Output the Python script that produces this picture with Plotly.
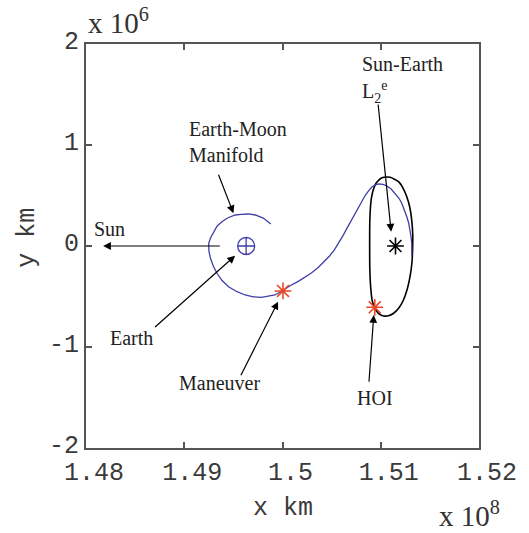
import plotly.graph_objects as go

# Units: x in 1e8 km, y in 1e6 km
manifold_x = [1.49881, 1.49804, 1.49723, 1.49652, 1.49582, 1.49518, 1.49441, 1.49383, 1.49335, 1.49300,
              1.49270, 1.49249, 1.49251, 1.49267, 1.49295, 1.49333, 1.49385, 1.49451, 1.49532, 1.49619,
              1.49703, 1.49786, 1.49854, 1.49922, 1.50005, 1.50076, 1.50156, 1.50222, 1.50290, 1.50358,
              1.50425, 1.50479, 1.50526, 1.50569, 1.50610, 1.50650, 1.50693, 1.50736, 1.50778, 1.50811,
              1.50844, 1.50878, 1.50912, 1.50945, 1.50980, 1.51023, 1.51063, 1.51106, 1.51147, 1.51184,
              1.51214, 1.51241, 1.51265, 1.51284, 1.51298, 1.51308, 1.51315, 1.51318, 1.51317]
manifold_y = [0.218, 0.277, 0.307, 0.317, 0.314, 0.307, 0.277, 0.241, 0.198, 0.142,
              0.084, 0.027, -0.050, -0.122, -0.198, -0.270, -0.342, -0.403, -0.450, -0.485,
              -0.503, -0.508, -0.500, -0.485, -0.441, -0.393, -0.353, -0.315, -0.270, -0.218,
              -0.155, -0.099, -0.040, 0.025, 0.092, 0.165, 0.241, 0.317, 0.389, 0.450,
              0.505, 0.549, 0.587, 0.606, 0.614, 0.611, 0.594, 0.564, 0.522, 0.475,
              0.423, 0.361, 0.290, 0.228, 0.158, 0.094, 0.027, -0.040, -0.099]

halo_x = [1.51036, 1.51096, 1.51181, 1.51229, 1.51265, 1.51295, 1.51315, 1.51325, 1.51325, 1.51318,
          1.51298, 1.51270, 1.51231, 1.51184, 1.51131, 1.51078, 1.51030, 1.50993, 1.50962, 1.50932,
          1.50912, 1.50898, 1.50889, 1.50887, 1.50889, 1.50894, 1.50902, 1.50914, 1.50929, 1.50952,
          1.50980, 1.51008, 1.51036]
halo_y = [0.680, 0.680, 0.637, 0.569, 0.488, 0.386, 0.257, 0.129, -0.007, -0.158,
          -0.304, -0.426, -0.535, -0.614, -0.666, -0.691, -0.693, -0.678, -0.650, -0.599,
          -0.535, -0.416, -0.238, 0.010, 0.257, 0.366, 0.455, 0.520, 0.571, 0.621,
          0.653, 0.673, 0.680]

earth = (1.4963, 0.0)
l2 = (1.5115, 0.0)
maneuver = (1.50005, -0.445)
hoi = (1.50939, -0.607)

x_ticks = [1.48, 1.49, 1.50, 1.51, 1.52]
x_ticktext = ["1.48", "1.49", "1.5", "1.51", "1.52"]
y_ticks = [-2, -1, 0, 1, 2]
y_ticktext = ["-2", "-1", "0", "1", "2"]

blue = "rgb(62,62,168)"
red = "rgb(232,72,40)"

fig = go.Figure()
fig.add_trace(go.Scatter(x=halo_x, y=halo_y, mode="lines", line=dict(color="black", width=1.6, shape="spline", smoothing=0.6),
                         showlegend=False))
fig.add_trace(go.Scatter(x=manifold_x, y=manifold_y, mode="lines", line=dict(color=blue, width=1.3),
                         showlegend=False))
fig.add_trace(go.Scatter(x=[earth[0]], y=[earth[1]], mode="markers",
                         marker=dict(symbol="circle-cross-open", size=17, color=blue, line=dict(width=1.3, color=blue)),
                         showlegend=False))
fig.add_trace(go.Scatter(x=[l2[0]], y=[l2[1]], mode="markers",
                         marker=dict(symbol="asterisk-open", size=14, color="black", line=dict(width=1.6, color="black")),
                         showlegend=False))
fig.add_trace(go.Scatter(x=[maneuver[0], hoi[0]], y=[maneuver[1], hoi[1]], mode="markers",
                         marker=dict(symbol="asterisk-open", size=14, color=red, line=dict(width=1.6, color=red)),
                         showlegend=False))

serif = dict(family="Liberation Serif", size=20, color="#222")
mono = dict(family="Liberation Mono", size=25, color="#3a3a3a")

texts = [
    ("Sun-Earth", 1.5079, 1.80),
    ("L<sub>2</sub><sup>e</sup>", 1.5079, 1.52),
    ("Earth-Moon", 1.4903, 1.155),
    ("Manifold", 1.4903, 0.901),
    ("Sun", 1.4806, 0.165),
    ("Earth", 1.4822, -0.914),
    ("Maneuver", 1.4893, -1.359),
    ("HOI", 1.5074, -1.508),
]
for t, x, y in texts:
    fig.add_annotation(x=x, y=y, text=t, showarrow=False, xanchor="left", yanchor="middle", font=serif)

arrows = [
    ((1.50972, 1.416), (1.51106, 0.142)),
    ((1.49343, 0.720), (1.49501, 0.324)),
    ((1.49377, 0.0), (1.48174, 0.0)),
    ((1.48688, -0.815), (1.49518, -0.096)),
    ((1.49569, -1.294), (1.49955, -0.551)),
    ((1.50879, -1.359), (1.50929, -0.683)),
]
for (tx, ty), (hx, hy) in arrows:
    fig.add_annotation(x=hx, y=hy, ax=tx, ay=ty, xref="x", yref="y", axref="x", ayref="y",
                       text="", showarrow=True, arrowhead=2, arrowsize=1.3, arrowwidth=1.2, arrowcolor="black")

# axis labels and exponents
fig.add_annotation(x=0.5, y=-0.15, xref="paper", yref="paper", text="x km", showarrow=False,
                   font=mono, xanchor="center", yanchor="middle")
fig.add_annotation(x=-0.148, y=0.52, xref="paper", yref="paper", text="y km", showarrow=False,
                   font=mono, textangle=-90, xanchor="center", yanchor="middle")
fig.add_annotation(x=1.058, y=-0.163, xref="paper", yref="paper", text="x 10<sup>8</sup>", showarrow=False,
                   font=dict(family="Liberation Serif", size=29, color="#333"), xanchor="right", yanchor="middle")
fig.add_annotation(x=0.0, y=1.057, xref="paper", yref="paper", text="x 10<sup>6</sup>", showarrow=False,
                   font=dict(family="Liberation Serif", size=29, color="#333"), xanchor="left", yanchor="middle")

axis_common = dict(showline=True, linecolor="#555", linewidth=2, mirror="ticks", ticks="inside",
                   ticklen=6, tickcolor="#555", tickwidth=1.5, showgrid=False, zeroline=False,
                   tickfont=mono)
fig.update_xaxes(range=[1.48, 1.52], tickvals=x_ticks, ticktext=x_ticktext, ticklabelshift=8, **axis_common)
fig.update_yaxes(range=[-2, 2], tickvals=y_ticks, ticktext=y_ticktext, ticklabelshift=-4, **axis_common)

fig.update_layout(width=529, height=533, margin=dict(l=86, r=46, t=44, b=85),
                  plot_bgcolor="white", paper_bgcolor="white")

fig.write_html("out.html")
